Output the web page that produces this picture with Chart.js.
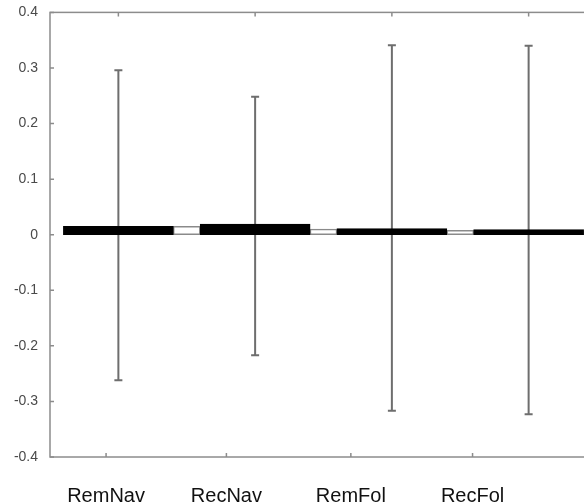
<!DOCTYPE html>
<html>
<head>
<meta charset="utf-8">
<script src="https://cdn.jsdelivr.net/npm/chart.js@4.4.1/dist/chart.umd.min.js"></script>
<style>
    html, body { margin: 0; padding: 0; background: #ffffff; overflow: hidden; }
    #wrap { width: 620px; height: 504px; }
</style>
</head>
<body>
<div id="wrap"><canvas id="chart" width="620" height="504"></canvas></div>
<script>
const categories = ['RemNav', 'RecNav', 'RemFol', 'RecFol'];
const positions = [1, 2, 3, 4];
const means = [0.015, 0.019, 0.011, 0.009];
const gapPositions = [1.5, 2.5, 3.5, 4.5];
const gapValues = [0.015, 0.010, 0.008, 0.006];
const errUpper = [0.296, 0.248, 0.341, 0.340];
const errLower = [-0.262, -0.217, -0.317, -0.323];
const yTicks = [-0.4, -0.3, -0.2, -0.1, 0, 0.1, 0.2, 0.3, 0.4];
// the category labels sit a bit left of the bars in the original
const labelTicks = [0.91, 1.79, 2.70, 3.59];

const axisGray = '#8c8c8c';
const fontFamily = '"Liberation Sans", Arial, sans-serif';

const errorBars = {
    id: 'errorBars',
    beforeDatasetsDraw(chart) {
        const { ctx, scales: { x, y } } = chart;
        ctx.save();
        ctx.strokeStyle = '#6e6e6e';
        ctx.lineWidth = 2;
        ctx.beginPath();
        positions.forEach((pos, i) => {
            const px = x.getPixelForValue(pos);
            const top = y.getPixelForValue(errUpper[i]);
            const bottom = y.getPixelForValue(errLower[i]);
            ctx.moveTo(px, top);
            ctx.lineTo(px, bottom);
            ctx.moveTo(px - 4, top);
            ctx.lineTo(px + 4, top);
            ctx.moveTo(px - 4, bottom);
            ctx.lineTo(px + 4, bottom);
        });
        ctx.stroke();
        ctx.restore();
    },
};

const frame = {
    id: 'frame',
    afterDraw(chart) {
        const { ctx, chartArea: a, scales: { x, y } } = chart;
        ctx.save();
        ctx.strokeStyle = axisGray;
        ctx.lineWidth = 1.5;
        ctx.strokeRect(a.left, a.top, a.right - a.left, a.bottom - a.top);
        ctx.beginPath();
        yTicks.forEach((v) => {
            const py = y.getPixelForValue(v);
            ctx.moveTo(a.left, py);
            ctx.lineTo(a.left + 4, py);
            ctx.moveTo(a.right, py);
            ctx.lineTo(a.right - 4, py);
        });
        labelTicks.forEach((v) => {
            const px = x.getPixelForValue(v);
            ctx.moveTo(px, a.bottom);
            ctx.lineTo(px, a.bottom - 4);
        });
        positions.forEach((v) => {
            const px = x.getPixelForValue(v);
            ctx.moveTo(px, a.top);
            ctx.lineTo(px, a.top + 4);
        });
        ctx.stroke();
        ctx.restore();
    },
};

new Chart(document.getElementById('chart'), {
    type: 'bar',
    data: {
        datasets: [
            {
                data: positions.map((pos, i) => ({ x: pos, y: means[i] })),
                backgroundColor: '#000000',
                borderColor: '#000000',
                borderWidth: 1,
                borderSkipped: false,
                barThickness: 110,
            },
            {
                data: gapPositions.map((pos, i) => ({ x: pos, y: gapValues[i] })),
                backgroundColor: '#ffffff',
                borderColor: '#8a8a8a',
                borderWidth: 1.5,
                borderSkipped: false,
                barThickness: 27,
            },
        ],
    },
    options: {
        responsive: false,
        animation: false,
        events: [],
        layout: { padding: { top: 12, right: 23, left: 0, bottom: 0 } },
        plugins: {
            legend: { display: false },
            tooltip: { enabled: false },
        },
        scales: {
            x: {
                type: 'linear',
                stacked: true,
                offset: false,
                min: 0.5,
                max: 4.5,
                grid: { display: false, offset: false },
                border: { display: false },
                afterBuildTicks: (scale) => {
                    scale.ticks = labelTicks.map((v) => ({ value: v }));
                },
                afterFit: (scale) => {
                    scale.height = 47;
                },
                ticks: {
                    maxRotation: 0,
                    autoSkip: false,
                    padding: 19,
                    color: '#111111',
                    font: { family: fontFamily, size: 20 },
                    callback: (value, index) => categories[index],
                },
            },
            y: {
                min: -0.4,
                max: 0.4,
                grid: { display: false },
                border: { display: false },
                afterBuildTicks: (scale) => {
                    scale.ticks = yTicks.map((v) => ({ value: v }));
                },
                afterFit: (scale) => {
                    scale.width = 50;
                },
                ticks: {
                    padding: 4,
                    color: '#4a4a4a',
                    font: { family: fontFamily, size: 14 },
                    callback: (value) => String(Number(value.toFixed(1))),
                },
            },
        },
    },
    plugins: [errorBars, frame],
});
</script>
</body>
</html>
